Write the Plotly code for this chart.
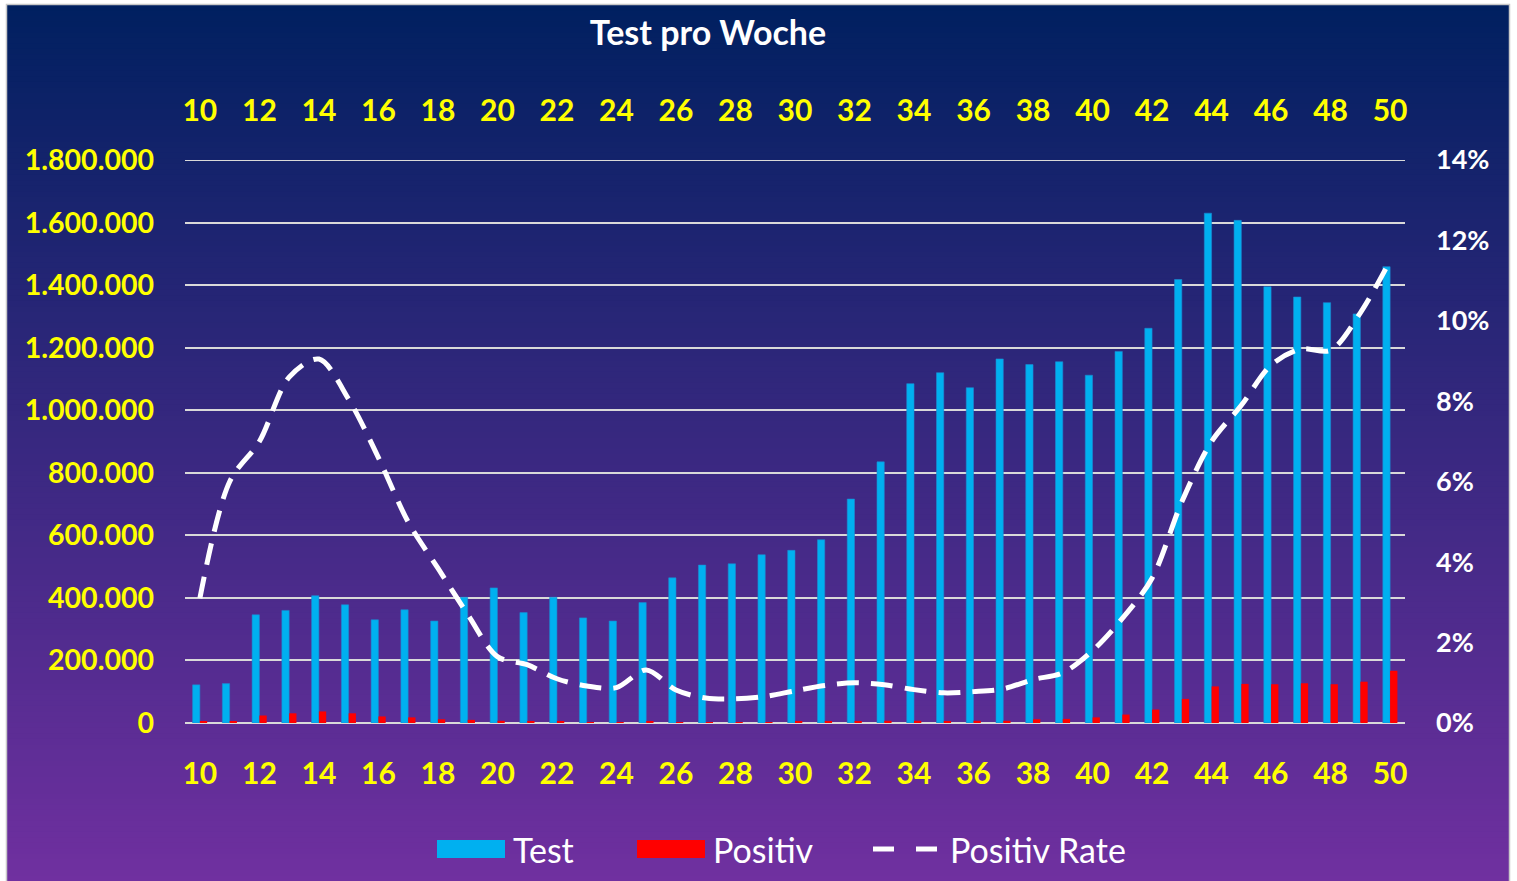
import plotly.graph_objects as go

# ---------------- data ----------------
weeks = list(range(10, 51))
tests = [122000, 126000, 346000, 360000, 407000, 378000, 330000, 362000, 326000, 402000, 432000,
         353000, 402000, 336000, 326000, 385000, 464000, 505000, 509000, 538000, 552000,
         586000, 716000, 835000, 1085000, 1120000, 1072000, 1164000, 1146000, 1155000, 1112000,
         1188000, 1262000, 1418000, 1630000, 1607000, 1395000, 1362000, 1344000, 1308000, 1459000]
positives = [4000, 6000, 24000, 31000, 37000, 31000, 21000, 18000, 12000, 10000, 7000,
             5000, 4000, 2000, 1000, 5000, 3000, 2000, 2000, 3000, 4000,
             5000, 6000, 7000, 7000, 6000, 7000, 7000, 12000, 13000, 18000,
             27000, 43000, 77000, 117000, 125000, 124000, 127000, 124000, 132000, 167000]
rate_pct = [3.1, 6.0, 7.0, 8.6, 9.05, 8.05, 6.6, 5.0, 3.85, 2.7, 1.65,
            1.45, 1.1, 0.92, 0.88, 1.32, 0.82, 0.62, 0.6, 0.66, 0.8,
            0.93, 1.0, 0.95, 0.83, 0.75, 0.78, 0.85, 1.08, 1.25, 1.8,
            2.6, 3.6, 5.5, 7.0, 7.9, 8.9, 9.3, 9.27, 10.2, 11.5]
rates = [r / 100 for r in rate_pct]
tick_weeks = list(range(10, 51, 2))

title_text = "Test pro Woche"
legend_names = ["Test", "Positiv", "Positiv Rate"]

# ---------------- layout geometry ----------------
W, H = 1517, 881
ML, MR, MT, MB = 185, 112, 160, 158
PW, PH = W - ML - MR, H - MT - MB

def px_x(x):
    return (x - ML) / PW

def px_y(y):
    return (H - MB - y) / PH

BLUE = "#00B0F0"
RED = "#FF0000"
YEL = "#FFFF00"
GRID = "#D9D9D9"
FONT = "Lato"

Y1MAX = 1800000
Y2MAX = 0.14

fig = go.Figure()
fig.add_trace(go.Bar(x=weeks, y=tests, name=legend_names[0],
                     marker=dict(color=BLUE, line=dict(color="#1E88D0", width=0.6)),
                     showlegend=False))
fig.add_trace(go.Bar(x=weeks, y=positives, name=legend_names[1],
                     marker=dict(color=RED, line=dict(width=0)),
                     showlegend=False))
fig.add_trace(go.Scatter(x=weeks, y=rates, name=legend_names[2], mode="lines",
                         line=dict(color="white", width=5, dash="22px,12px", shape="spline", smoothing=0.9),
                         xaxis="x2", yaxis="y2", showlegend=False))

# ---------------- background gradient ----------------
shapes = []
top_c = (0, 32, 96)
bot_c = (112, 48, 160)
y0, y1 = 5, 881
N = 160
for i in range(N):
    t = (i + 0.5) / N
    c = tuple(int(round(top_c[k] + (bot_c[k] - top_c[k]) * t)) for k in range(3))
    ya = y0 + (y1 - y0) * i / N
    yb = y0 + (y1 - y0) * (i + 1) / N + 0.8
    shapes.append(dict(type="rect", xref="paper", yref="paper", layer="below",
                       x0=px_x(7), x1=px_x(1509), y0=px_y(ya), y1=px_y(min(yb, 881)),
                       fillcolor="rgb(%d,%d,%d)" % c, line=dict(width=0)))
shapes.append(dict(type="rect", xref="paper", yref="paper", layer="below",
                   x0=px_x(6.5), x1=px_x(1509.5), y0=px_y(4.5), y1=px_y(882),
                   fillcolor="rgba(0,0,0,0)", line=dict(color="#C8C8C8", width=1.5)))
# top gridline (plotly omits the grid line at the very edge of the range)
shapes.append(dict(type="line", xref="paper", yref="y", layer="below", x0=0, x1=1,
                   y0=Y1MAX, y1=Y1MAX, line=dict(color=GRID, width=2)))

# ---------------- manual legend ----------------
annotations = []
leg_y = 849
shapes.append(dict(type="rect", xref="paper", yref="paper", x0=px_x(437), x1=px_x(505),
                   y0=px_y(840), y1=px_y(858), fillcolor=BLUE, line=dict(width=0)))
shapes.append(dict(type="rect", xref="paper", yref="paper", x0=px_x(637), x1=px_x(705),
                   y0=px_y(840), y1=px_y(858), fillcolor=RED, line=dict(width=0)))
for xa, xb in [(873, 894), (916, 937)]:
    shapes.append(dict(type="line", xref="paper", yref="paper", x0=px_x(xa), x1=px_x(xb),
                       y0=px_y(leg_y), y1=px_y(leg_y), line=dict(color="white", width=5)))
for name, xpos in zip(legend_names, [511, 711, 948]):
    annotations.append(dict(text=name, xref="paper", yref="paper", x=px_x(xpos), y=px_y(leg_y),
                            xanchor="left", yanchor="middle", showarrow=False,
                            font=dict(family=FONT, size=34, color="white")))

fig.update_layout(
    width=W, height=H,
    margin=dict(l=ML, r=MR, t=MT, b=MB),
    paper_bgcolor="white",
    plot_bgcolor="rgba(0,0,0,0)",
    separators=",.",
    barmode="group", bargap=0.51, bargroupgap=0.0,
    showlegend=False,
    title=dict(text="<b>%s</b>" % title_text, x=708 / W, xanchor="center",
               y=1 - 33 / H, yanchor="middle",
               font=dict(family=FONT, size=34, color="white")),
    xaxis=dict(range=[9.5, 50.5], tickvals=tick_weeks, showgrid=False, zeroline=False, showline=False,
               ticks="", ticklabelstandoff=30,
               tickfont=dict(family=FONT, size=30, color=YEL, weight="bold")),
    xaxis2=dict(range=[9.5, 50.5], overlaying="x", side="top", tickvals=tick_weeks, showgrid=False,
                zeroline=False, showline=False, ticks="", ticklabelstandoff=32,
                tickfont=dict(family=FONT, size=30, color=YEL, weight="bold")),
    yaxis=dict(range=[0, Y1MAX], dtick=200000, tickformat=",d", showgrid=True, gridcolor=GRID,
               gridwidth=2, zeroline=True, zerolinecolor=GRID, zerolinewidth=2, showline=False,
               ticks="", ticklabelstandoff=30,
               tickfont=dict(family=FONT, size=28.5, color=YEL, weight="bold")),
    yaxis2=dict(range=[0, Y2MAX], dtick=0.02, tickformat=".0%", overlaying="y", side="right",
                showgrid=False, zeroline=False, showline=False, ticks="", ticklabelstandoff=30,
                tickfont=dict(family=FONT, size=27, color="white", weight="bold")),
    shapes=shapes,
    annotations=annotations,
)

fig.write_html("out.html", config={"displayModeBar": False},
               post_script="document.body.style.margin='0';document.body.style.padding='0';")
